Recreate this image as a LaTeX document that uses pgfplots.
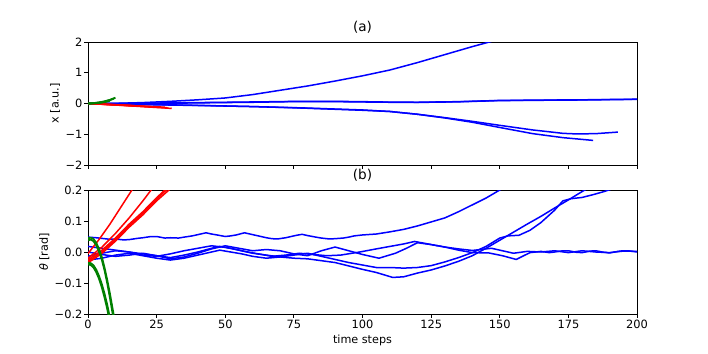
\documentclass[border=0pt]{standalone}
\usepackage{fontspec}
\setmainfont{DejaVu Sans}
\usepackage{pgfplots}
\pgfplotsset{compat=1.18}
\definecolor{mblue}{RGB}{0,0,255}
\definecolor{mred}{RGB}{255,0,0}
\definecolor{mgreen}{RGB}{0,128,0}
\begin{document}
\fontsize{11.2}{13.4}\selectfont
\begin{tikzpicture}
\path[use as bounding box] (0pt,0pt) rectangle (708pt,-353pt);
\pgfplotsset{
  every axis/.append style={
    scale only axis, width=549pt,
    xmin=0, xmax=200,
    axis line style={line width=0.9pt, black},
    tick align=outside, tick pos=left,
    major tick length=3.9pt,
    every tick/.style={black, line width=0.9pt},
    xtick={0,25,...,200},
    ticklabel style={font=\fontsize{11.4}{13.4}\selectfont},
    yticklabel style={inner sep=1.5pt},
    xticklabel style={inner sep=2pt},
    label style={font=\fontsize{11.2}{13.4}\selectfont},
    title style={font=\fontsize{13.6}{16}\selectfont, inner sep=3pt},
    clip=true,
  },
  bl/.style={mblue, line width=1.5pt, line join=round},
  rd/.style={mred, line width=1.5pt, line join=round},
  gr/.style={mgreen, line width=1.8pt, line join=round},
}
% ---------------- panel (a)
\begin{axis}[at={(88pt,-165pt)}, anchor=south west, height=123pt,
  ymin=-2, ymax=2, ytick={-2,-1,0,1,2}, yticklabels={−2,−1,0,1,2},
  xticklabels={}, title={(a)}, ylabel={x [a.u.]}]
\addplot[bl] coordinates {(0,0) (10,0.005) (20,0.03) (30,0.07) (40,0.12) (50,0.18) (60,0.29) (70,0.43) (80,0.57) (90,0.73) (100,0.9) (110,1.09) (120,1.33) (130,1.59) (140,1.85) (147,2.02) (152,2.15)};
\addplot[bl] coordinates {(0,0) (20,0.01) (40,0.03) (60,0.05) (77,0.07) (90,0.07) (100,0.06) (110,0.045) (120,0.04) (135,0.06) (150,0.1) (165,0.11) (180,0.12) (200,0.14)};
\addplot[bl] coordinates {(0,0) (20,0.0) (40,0.02) (60,0.04) (77,0.065) (90,0.06) (100,0.05) (110,0.04) (120,0.035) (135,0.055) (150,0.095) (165,0.105) (180,0.115) (200,0.135)};
\addplot[bl] coordinates {(0,0) (20,-0.03) (40,-0.06) (60,-0.1) (77,-0.14) (100,-0.21) (110,-0.26) (120,-0.35) (130,-0.47) (140,-0.61) (150,-0.78) (162,-0.98) (173,-1.11) (184,-1.2)};
\addplot[bl] coordinates {(0,0) (20,-0.035) (40,-0.065) (60,-0.1) (77,-0.145) (100,-0.22) (110,-0.26) (120,-0.35) (130,-0.46) (140,-0.58) (150,-0.71) (162,-0.86) (173,-0.97) (178,-0.99) (185,-0.98) (193,-0.93)};
\addplot[rd] coordinates {(0,0) (8,-0.03) (17,-0.07)};
\addplot[rd] coordinates {(0,0) (12,-0.05) (24,-0.11)};
\addplot[rd] coordinates {(0,0) (15,-0.07) (29,-0.14)};
\addplot[rd] coordinates {(0,0) (14,-0.06) (28,-0.12)};
\addplot[rd] coordinates {(0,0) (15,-0.075) (30.5,-0.16)};
\addplot[gr] coordinates {(0,0) (2,0.012) (4,0.035) (6,0.07) (8,0.12) (10,0.19)};
\addplot[gr] coordinates {(0,0) (2,0.01) (4,0.03) (6,0.062) (8,0.11) (9.5,0.16)};
\addplot[gr] coordinates {(0,0) (2,0.008) (4,0.025) (6,0.052) (8,0.09)};
\addplot[gr] coordinates {(0,0) (2,0.006) (4,0.02) (6,0.045) (7.8,0.08)};
\end{axis}
% ---------------- panel (b)
\begin{axis}[at={(88pt,-314pt)}, anchor=south west, height=124pt,
  ymin=-0.2, ymax=0.2, ytick={-0.2,-0.1,0,0.1,0.2},
  yticklabels={−0.2,−0.1,0.0,0.1,0.2},
  xticklabels={0,25,50,75,100,125,150,175,200},
  title={(b)}, ylabel={{\itshape θ} [rad]}, xlabel={time steps}]
\addplot[bl] coordinates {(0,0.048) (3,0.046) (5,0.044) (8,0.041) (10,0.042) (13,0.039) (15,0.04) (18,0.044) (20,0.046) (23,0.05) (25,0.05) (28,0.045) (30,0.046) (33,0.045) (35,0.048) (38,0.052) (40,0.056) (43,0.062) (45,0.058) (47,0.055) (50,0.05) (52,0.052) (54,0.055) (57,0.062) (59,0.058) (61,0.054) (63,0.05) (65,0.046) (67,0.043) (69,0.042) (72,0.046) (74,0.05) (76,0.054) (78,0.057) (80,0.053) (83,0.048) (85,0.045) (88,0.042) (90,0.043) (93,0.045) (95,0.048) (97,0.052) (100,0.055) (105,0.058) (110,0.065) (115,0.073) (120,0.084) (125,0.097) (130,0.11) (135,0.13) (140,0.152) (145,0.174) (150,0.2) (152,0.21)};
\addplot[bl] coordinates {(0,0.018) (5,0.012) (10,0.006) (15,0.0) (20,-0.006) (25,-0.012) (30,-0.018) (35,-0.01) (40,0.0) (45,0.012) (48,0.018) (52,0.012) (57,0.002) (62,-0.006) (67,-0.014) (72,-0.01) (77,-0.004) (82,-0.008) (87,-0.012) (92,-0.01) (99,0.0) (105,0.01) (110,0.018) (115,0.026) (119,0.034) (125,0.024) (130,0.016) (135,0.006) (140,-0.002) (146,-0.003) (151,-0.012) (156,-0.024) (161,-0.002) (165,0.002) (168,-0.002) (170,0.0) (173,0.004) (175,0.004) (178,-0.001) (180,-0.002) (183,0.003) (185,0.004) (188,-0.001) (190,-0.003) (193,0.002) (195,0.004) (198,0.003) (200,0.0)};
\addplot[bl] coordinates {(0,0.0) (5,-0.008) (10,-0.014) (15,-0.01) (20,-0.004) (25,-0.012) (30,-0.022) (35,-0.016) (40,-0.004) (45,0.01) (50,0.02) (55,0.012) (60,0.004) (65,0.008) (70,0.004) (75,-0.006) (80,-0.012) (85,0.004) (90,0.016) (95,0.004) (100,-0.008) (106,-0.02) (112,-0.004) (116,0.012) (120,0.03) (125,0.024) (130,0.016) (135,0.01) (140,0.005) (147,0.012) (150,0.006) (155,-0.004) (160,0.002) (165,0.0) (170,0.004) (175,-0.002) (180,0.004) (185,0.0) (190,-0.002) (195,0.003) (200,0.002)};
\addplot[bl] coordinates {(0,-0.014) (5,-0.004) (10,0.004) (15,0.0) (20,-0.01) (25,-0.014) (30,-0.006) (35,0.004) (40,0.012) (45,0.02) (50,0.015) (55,0.006) (60,-0.004) (65,-0.01) (70,-0.016) (75,-0.02) (80,-0.022) (85,-0.028) (90,-0.034) (95,-0.045) (100,-0.056) (105,-0.066) (111,-0.082) (115,-0.08) (120,-0.068) (125,-0.058) (130,-0.045) (135,-0.03) (140,-0.012) (145,0.012) (150,0.038) (155,0.064) (160,0.09) (165,0.115) (170,0.142) (175,0.168) (180,0.195) (184,0.215)};
\addplot[bl] coordinates {(0,-0.026) (5,-0.02) (10,-0.01) (15,-0.004) (20,-0.012) (25,-0.02) (30,-0.026) (35,-0.02) (40,-0.01) (45,0.0) (48,0.006) (52,0.0) (56,-0.006) (60,-0.014) (65,-0.02) (70,-0.016) (75,-0.01) (80,-0.004) (85,-0.014) (90,-0.024) (95,-0.034) (100,-0.042) (105,-0.05) (110,-0.05) (115,-0.052) (120,-0.05) (125,-0.044) (130,-0.032) (135,-0.018) (140,-0.002) (145,0.018) (150,0.045) (153,0.052) (157,0.054) (161,0.07) (165,0.095) (170,0.135) (173,0.165) (176,0.172) (180,0.176) (184,0.185) (188,0.195) (193,0.21)};
\addplot[rd] coordinates {(0,-0.005) (4,0.04) (8,0.09) (12,0.145) (16,0.2) (17,0.215)};
\addplot[rd] coordinates {(0,-0.02) (5,0.015) (10,0.06) (15,0.11) (20,0.165) (23,0.2) (24,0.215)};
\addplot[rd] coordinates {(0,-0.03) (5,0.0) (10,0.04) (15,0.085) (20,0.125) (25,0.17) (28.5,0.2) (29,0.21)};
\addplot[rd] coordinates {(0,-0.025) (5,0.005) (10,0.045) (15,0.09) (20,0.13) (25,0.175) (28,0.2) (28.5,0.21)};
\addplot[rd] coordinates {(0,-0.035) (5,-0.005) (10,0.035) (15,0.08) (20,0.12) (25,0.165) (29.5,0.2) (30.5,0.21)};
\addplot[gr] coordinates {(0,0.045) (1,0.046) (2,0.042) (3,0.03) (4,0.01) (5,-0.015) (6,-0.05) (7,-0.09) (8,-0.135) (9,-0.185) (9.5,-0.21)};
\addplot[gr] coordinates {(0,0.038) (1,0.04) (2,0.035) (3,0.022) (4,0.002) (5,-0.024) (6,-0.058) (7,-0.1) (8,-0.148) (9,-0.2) (9.2,-0.21)};
\addplot[gr] coordinates {(0,-0.035) (1,-0.036) (2,-0.043) (3,-0.057) (4,-0.077) (5,-0.103) (6,-0.134) (7,-0.17) (7.8,-0.205)};
\addplot[gr] coordinates {(0,-0.04) (1,-0.042) (2,-0.05) (3,-0.065) (4,-0.086) (5,-0.113) (6,-0.146) (7,-0.183) (7.6,-0.21)};
\end{axis}
\end{tikzpicture}
\end{document}
